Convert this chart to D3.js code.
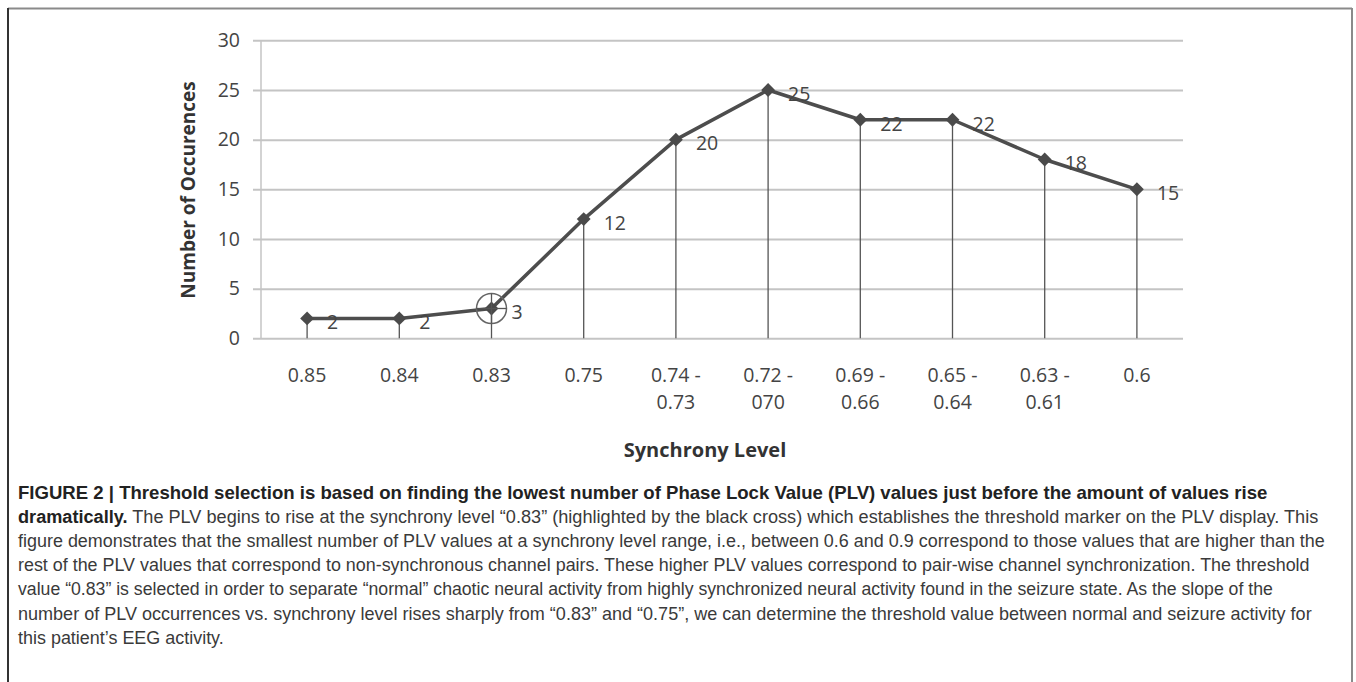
<!DOCTYPE html>
<html>
<head>
<meta charset="utf-8">
<script src="https://cdn.jsdelivr.net/npm/d3@7"></script>
<style>
  html, body { margin: 0; padding: 0; background: #fff; }
  svg { display: block; }
</style>
</head>
<body>
<svg id="chart" width="1356" height="682"></svg>
<script>
// ---- data ----
const categories = ["0.85", "0.84", "0.83", "0.75", "0.74 -\n0.73", "0.72 -\n070", "0.69 -\n0.66", "0.65 -\n0.64", "0.63 -\n0.61", "0.6"];
const occurrences = [2, 2, 3, 12, 20, 25, 22, 22, 18, 15];
const yTicks = [0, 5, 10, 15, 20, 25, 30];
const highlightCategory = "0.83";
const yTitle = "Number of Occurences";
const xTitle = "Synchrony Level";
const captionBoldLead = "FIGURE 2 | Threshold selection is based on finding the lowest number of Phase Lock Value (PLV) values just before the amount of values rise";
const captionLines = [
  [["dramatically.", true], [" The PLV begins to rise at the synchrony level \u201c0.83\u201d (highlighted by the black cross) which establishes the threshold marker on the PLV display. This", false]],
  [["figure demonstrates that the smallest number of PLV values at a synchrony level range, i.e., between 0.6 and 0.9 correspond to those values that are higher than the", false]],
  [["rest of the PLV values that correspond to non-synchronous channel pairs. These higher PLV values correspond to pair-wise channel synchronization. The threshold", false]],
  [["value \u201c0.83\u201d is selected in order to separate \u201cnormal\u201d chaotic neural activity from highly synchronized neural activity found in the seizure state. As the slope of the", false]],
  [["number of PLV occurrences vs. synchrony level rises sharply from \u201c0.83\u201d and \u201c0.75\u201d, we can determine the threshold value between normal and seizure activity for", false]],
  [["this patient\u2019s EEG activity.", false]]
];

// ---- layout ----
const svg = d3.select("#chart");
const plot = { left: 261, right: 1183, top: 40.3, bottom: 338.3, gridStart: 253 };
const chartFont = "'Open Sans', 'DejaVu Sans', sans-serif";

// frame
svg.append("line").attr("x1", 8).attr("x2", 1352).attr("y1", 8.5).attr("y2", 8.5).attr("stroke", "#8a8a8a").attr("stroke-width", 2);
svg.append("line").attr("x1", 8).attr("x2", 8).attr("y1", 8).attr("y2", 690).attr("stroke", "#333").attr("stroke-width", 2);
svg.append("line").attr("x1", 1352).attr("x2", 1352).attr("y1", 8).attr("y2", 690).attr("stroke", "#8a8a8a").attr("stroke-width", 2);

const x = d3.scaleBand().domain(categories).range([plot.left, plot.right]).padding(0);
const y = d3.scaleLinear().domain([0, 30]).range([plot.bottom, plot.top]);
const cx = d => x(d) + x.bandwidth() / 2;

// gridlines + y tick labels
const yAxis = d3.axisLeft(y).tickValues(yTicks).tickSizeInner(-(plot.right - plot.gridStart)).tickSizeOuter(0).tickPadding(13);
const gy = svg.append("g").attr("transform", `translate(${plot.gridStart},0)`).call(yAxis);
gy.select(".domain").remove();
gy.selectAll(".tick line").attr("stroke", "#c4c4c4").attr("stroke-width", 2);
gy.selectAll(".tick text").attr("font-family", chartFont).attr("font-size", 19.5).attr("fill", "#444");

// y axis vertical line
svg.append("line").attr("x1", plot.left).attr("x2", plot.left).attr("y1", y(30)).attr("y2", y(0)).attr("stroke", "#c4c4c4").attr("stroke-width", 1.5);

// x axis labels
const xAxis = d3.axisBottom(x).tickSize(0).tickPadding(0);
const gx = svg.append("g").attr("transform", `translate(0,${plot.bottom})`).call(xAxis);
gx.select(".domain").remove();
gx.selectAll(".tick text").each(function(d) {
  const t = d3.select(this);
  t.text(null).attr("font-family", chartFont).attr("font-size", 19.5).attr("fill", "#444").attr("y", 0).attr("dy", null);
  d.split("\n").forEach((part, i) => {
    t.append("tspan").attr("x", 0).attr("y", 44 + i * 27).text(part);
  });
});

// drop lines
svg.append("g").selectAll("line").data(categories).join("line")
  .attr("x1", d => cx(d)).attr("x2", d => cx(d))
  .attr("y1", (d, i) => y(occurrences[i])).attr("y2", y(0))
  .attr("stroke", "#555").attr("stroke-width", 1.3);

// main line
const pts = categories.map((c, i) => [cx(c), y(occurrences[i])]);
svg.append("path").attr("d", d3.line()(pts)).attr("fill", "none").attr("stroke", "#4d4d4d").attr("stroke-width", 3.5).attr("stroke-linejoin", "round");

// markers
const diamond = d3.symbol(d3.symbolSquare, 96);
svg.append("g").selectAll("path").data(categories).join("path")
  .attr("d", diamond)
  .attr("transform", (d, i) => `translate(${cx(d)},${y(occurrences[i])}) rotate(45)`)
  .attr("fill", "#4a4a4a");

// highlight circle + cross
const hi = categories.indexOf(highlightCategory);
const hx = cx(highlightCategory), hy = y(occurrences[hi]), hr = 15;
svg.append("circle").attr("cx", hx).attr("cy", hy).attr("r", hr).attr("fill", "none").attr("stroke", "#666").attr("stroke-width", 1.5);
svg.append("line").attr("x1", hx - hr).attr("x2", hx + hr).attr("y1", hy).attr("y2", hy).attr("stroke", "#555").attr("stroke-width", 1.3);
svg.append("line").attr("x1", hx).attr("x2", hx).attr("y1", hy - hr).attr("y2", hy + hr).attr("stroke", "#555").attr("stroke-width", 1.3);

// data labels
svg.append("g").selectAll("text").data(categories).join("text")
  .attr("x", d => cx(d) + 20)
  .attr("y", (d, i) => y(occurrences[i]) + 4)
  .attr("dy", "0.35em")
  .attr("font-family", chartFont).attr("font-size", 19.5).attr("fill", "#444")
  .text((d, i) => occurrences[i]);

// axis titles
svg.append("text").attr("transform", "translate(195,190) rotate(-90)")
  .attr("text-anchor", "middle").attr("font-family", chartFont).attr("font-weight", "bold")
  .attr("font-size", 19).attr("fill", "#333").text(yTitle);
svg.append("text").attr("x", 705).attr("y", 457).attr("text-anchor", "middle")
  .attr("font-family", chartFont).attr("font-weight", "bold")
  .attr("font-size", 20).attr("fill", "#333").text(xTitle);

// caption
const capFont = "'Liberation Sans', Arial, sans-serif";
const capTargets = [1268, 1319, 1326, 1311, 1274, 1312, null];
const capStartX = 18, capBase = 499, capStep = 24.1;
const allLines = [[[captionBoldLead, true]]].concat(captionLines);
const scales = [];
allLines.forEach((segs, li) => {
  const t = svg.append("text").attr("font-family", capFont).attr("font-size", 18.5).attr("fill", "#333");
  segs.forEach(([s, b]) => {
    t.append("tspan").attr("font-weight", b ? "bold" : "normal").attr("fill", b ? "#222" : "#3a3a3a").text(s);
  });
  const w = t.node().getComputedTextLength();
  let sx;
  if (capTargets[li] != null) { sx = (capTargets[li] - capStartX) / w; scales.push(sx); }
  else { sx = d3.mean(scales.slice(1)); }
  t.attr("transform", `translate(${capStartX},${capBase + li * capStep}) scale(${sx},1)`);
});
</script>
</body>
</html>
